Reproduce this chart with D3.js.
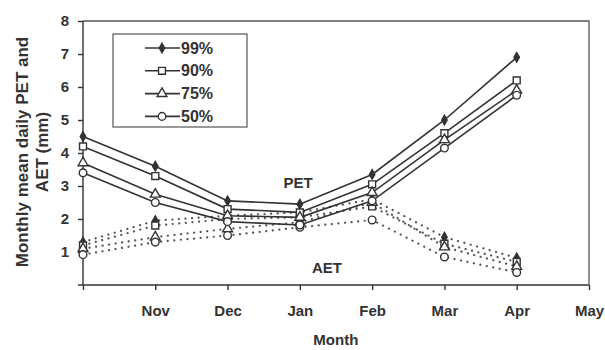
<!DOCTYPE html>
<html>
<head>
<meta charset="utf-8">
<script src="https://cdn.jsdelivr.net/npm/d3@7"></script>
<style>
  html, body { margin: 0; padding: 0; background: #fff; }
  svg { display: block; font-family: "Liberation Sans", Arial, sans-serif; }
</style>
</head>
<body>
<svg id="chart" width="605" height="350"></svg>
<script>
// Months on the x axis (the first position carries no label)
const months = ["Oct", "Nov", "Dec", "Jan", "Feb", "Mar", "Apr", "May"];
const monthLabels = ["", "Nov", "Dec", "Jan", "Feb", "Mar", "Apr", "May"];
const yTicks = [1, 2, 3, 4, 5, 6, 7, 8];

// Probability levels
const levels = ["99%", "90%", "75%", "50%"];
const symbols = ["diamond", "square", "triangle", "circle"];

// Monthly mean daily PET (mm), Oct..Apr
const pet99 = [4.5, 3.6, 2.55, 2.45, 3.35, 5.0, 6.9];
const pet90 = [4.2, 3.3, 2.3, 2.2, 3.05, 4.6, 6.2];
const pet75 = [3.7, 2.75, 2.1, 2.05, 2.8, 4.4, 5.9];
const pet50 = [3.4, 2.5, 1.92, 1.82, 2.55, 4.15, 5.75];

// Monthly mean daily AET (mm), Oct..Apr
const aet99 = [1.3, 1.95, 2.1, 2.2, 2.6, 1.45, 0.82];
const aet90 = [1.2, 1.8, 2.0, 2.05, 2.38, 1.25, 0.7];
const aet75 = [1.1, 1.45, 1.7, 1.9, 2.5, 1.15, 0.56];
const aet50 = [0.92, 1.3, 1.5, 1.75, 1.97, 0.85, 0.38];

const petSeries = [pet99, pet90, pet75, pet50];
const aetSeries = [aet99, aet90, aet75, aet50];

const ink = "#333";
const svg = d3.select("#chart");

const x = d3.scalePoint().domain(months).range([83, 589]);
const y = d3.scaleLinear().domain([0, 8]).range([285, 21]);

// Frame: top and right edges of the plot area
svg.append("path")
  .attr("d", `M${x("Oct")},${y(8)}H${x("May")}V${y(0)}`)
  .attr("fill", "none").attr("stroke", "#555").attr("stroke-width", 1.3);

// X axis
const xAxis = svg.append("g").attr("transform", `translate(0,${y(0)})`)
  .call(d3.axisBottom(x).tickSize(5).tickPadding(15).tickFormat((d, i) => monthLabels[i]));
xAxis.select(".domain").attr("d", `M78,0H${x("May")}`);
xAxis.selectAll("line, path").attr("stroke", ink).attr("stroke-width", 1.4);
xAxis.selectAll("text").attr("font-size", 15).attr("font-weight", "bold").attr("fill", ink)
  .attr("font-family", "Liberation Sans, Arial, sans-serif");

// Y axis
const yAxis = svg.append("g").attr("transform", `translate(${x("Oct")},0)`)
  .call(d3.axisLeft(y).tickValues(yTicks).tickSize(5).tickPadding(9).tickFormat(d3.format("d")));
yAxis.select(".domain").attr("d", `M0,${y(8)}V${y(0)}`);
yAxis.selectAll("line, path").attr("stroke", ink).attr("stroke-width", 1.4);
yAxis.selectAll("text").attr("font-size", 15).attr("font-weight", "bold").attr("fill", ink)
  .attr("font-family", "Liberation Sans, Arial, sans-serif");

// Axis titles
svg.append("text").attr("x", x("Jan") + 36).attr("y", 345)
  .attr("text-anchor", "middle").attr("font-size", 15).attr("font-weight", "bold").attr("fill", ink)
  .text("Month");
const yTitle = svg.append("text").attr("transform", "translate(28,152) rotate(-90)")
  .attr("text-anchor", "middle").attr("font-size", 17).attr("font-weight", "bold").attr("fill", ink);
yTitle.append("tspan").attr("x", 0).attr("dy", 0).text("Monthly mean daily PET and");
yTitle.append("tspan").attr("x", 0).attr("dy", 20).text("AET (mm)");

// Marker drawing helper
const symType = { diamond: d3.symbolDiamond, square: d3.symbolSquare, triangle: d3.symbolTriangle, circle: d3.symbolCircle };
const symSize = { diamond: 26, square: 48, triangle: 42, circle: 46 };
function drawMarker(g, kind, cx, cy) {
  g.append("path")
    .attr("d", d3.symbol().type(symType[kind]).size(symSize[kind])())
    .attr("transform", `translate(${cx},${cy})`)
    .attr("fill", kind === "diamond" ? ink : "#fff")
    .attr("stroke", ink).attr("stroke-width", 1.4);
}

const line = d3.line().x((d, i) => x(months[i])).y(d => y(d));

// AET series: dotted lines
aetSeries.forEach(s => {
  svg.append("path").attr("d", line(s)).attr("fill", "none")
    .attr("stroke", "#555").attr("stroke-width", 2.2)
    .attr("stroke-linecap", "round").attr("stroke-dasharray", "0.1,6.5");
});
// PET series: solid lines
petSeries.forEach(s => {
  svg.append("path").attr("d", line(s)).attr("fill", "none")
    .attr("stroke", ink).attr("stroke-width", 1.6);
});
// Markers
const mk = svg.append("g");
[aetSeries, petSeries].forEach(group => {
  group.forEach((s, k) => {
    s.forEach((v, i) => drawMarker(mk, symbols[k], x(months[i]), y(v)));
  });
});

// Series labels
svg.append("text").attr("x", 298).attr("y", 188).attr("text-anchor", "middle")
  .attr("font-size", 15).attr("font-weight", "bold").attr("fill", ink).text("PET");
svg.append("text").attr("x", 327).attr("y", 273).attr("text-anchor", "middle")
  .attr("font-size", 15).attr("font-weight", "bold").attr("fill", ink).text("AET");

// Legend
const lg = svg.append("g");
lg.append("rect").attr("x", 113).attr("y", 34).attr("width", 134).attr("height", 93)
  .attr("fill", "#fff").attr("stroke", "#555").attr("stroke-width", 1.2);
levels.forEach((name, k) => {
  const cy = 48 + k * 22.8;
  lg.append("line").attr("x1", 145).attr("x2", 180).attr("y1", cy).attr("y2", cy)
    .attr("stroke", ink).attr("stroke-width", 1.6);
  drawMarker(lg, symbols[k], 162, cy);
  lg.append("text").attr("x", 181).attr("y", cy + 5.5)
    .attr("font-size", 16).attr("font-weight", "bold").attr("fill", ink).text(name);
});
</script>
</body>
</html>
